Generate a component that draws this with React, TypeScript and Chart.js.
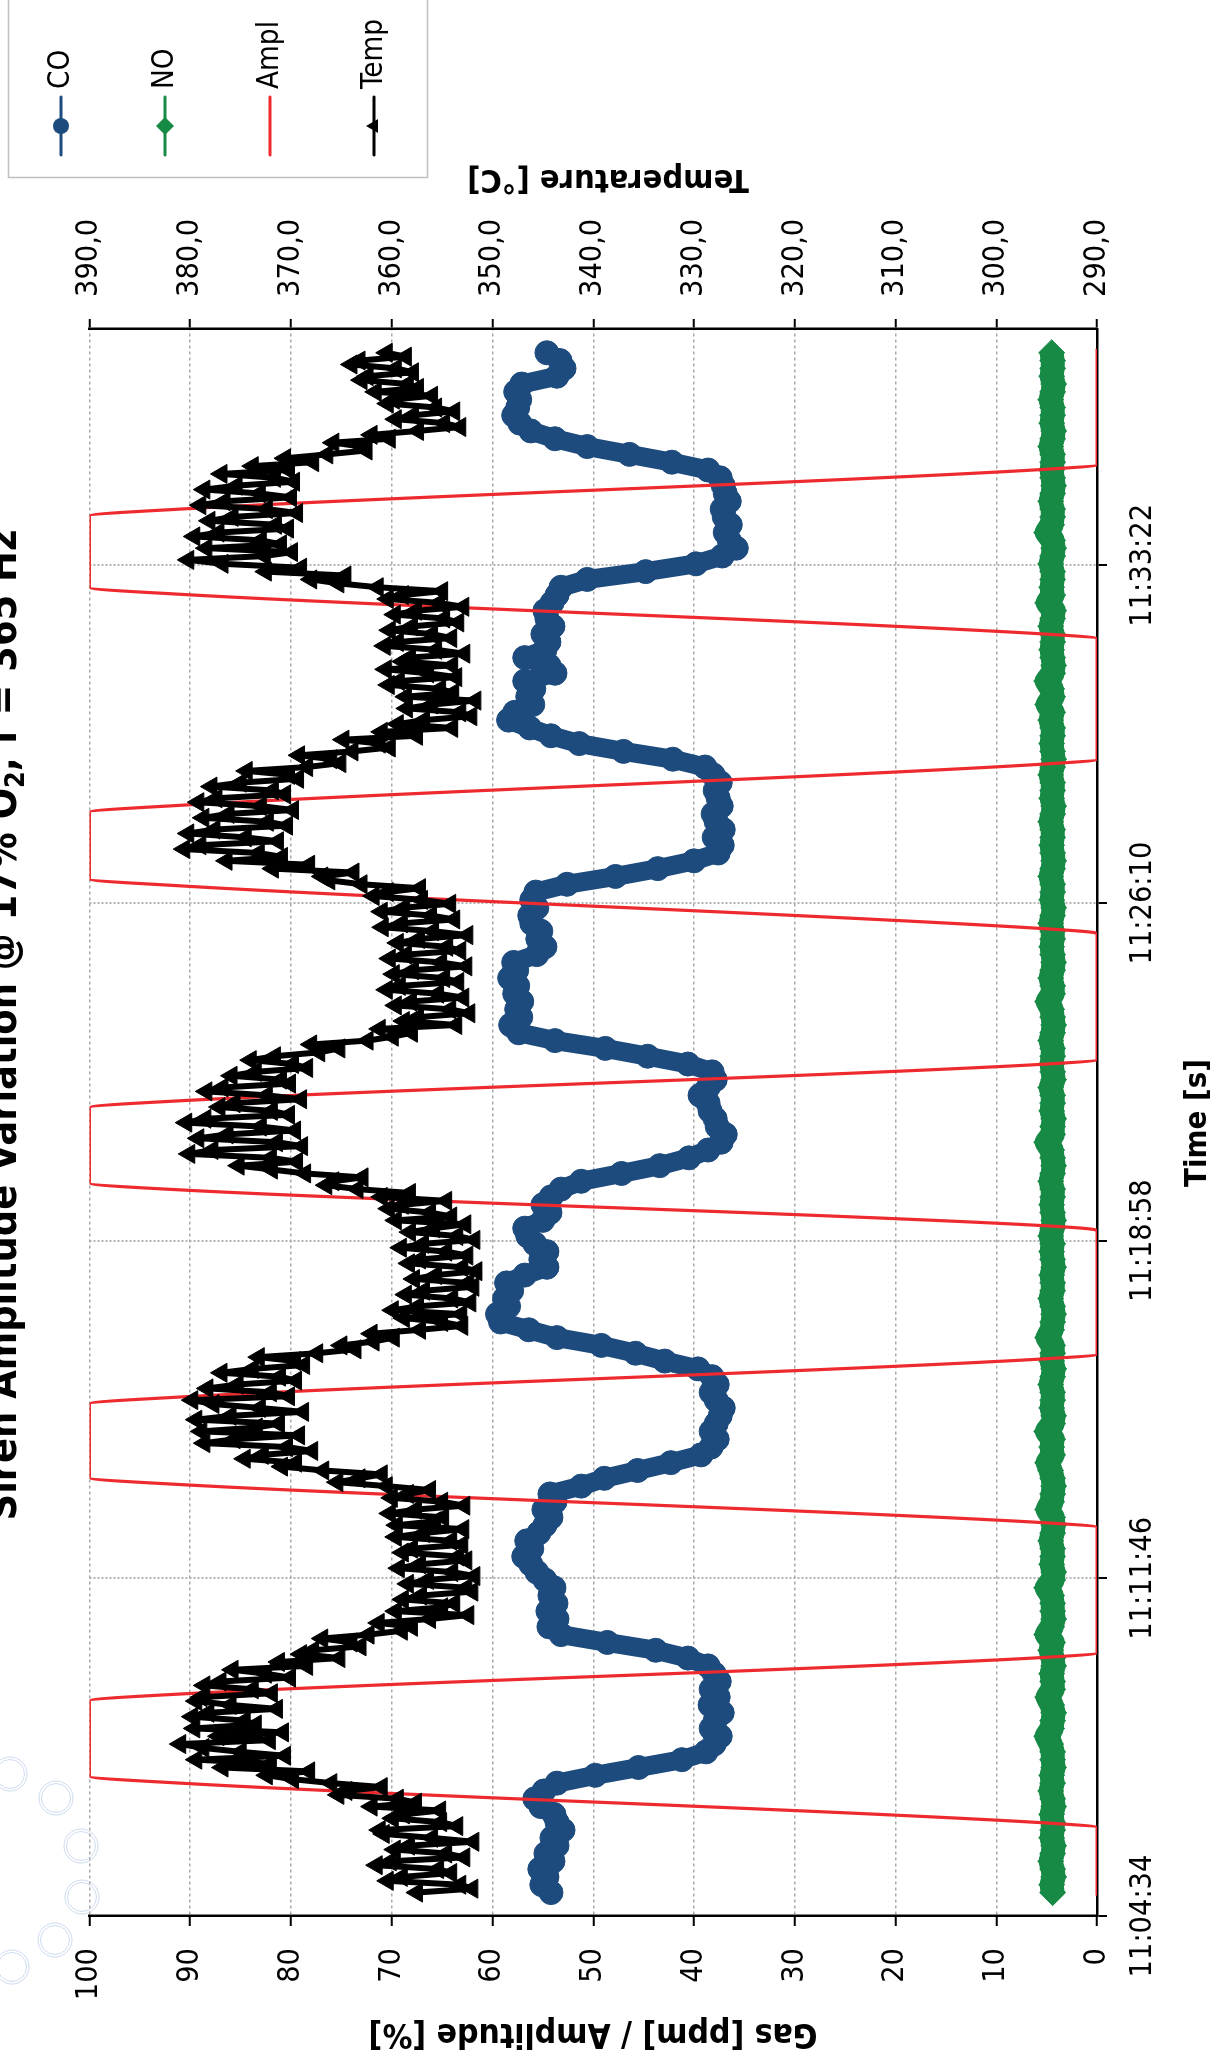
import React, { useEffect, useRef } from 'react';
import { Chart, registerables } from 'chart.js';

Chart.register(...registerables);

// ---------- texts ----------
const TITLE_MAIN = 'Siren Amplitude Variation @ 17% O';
const TITLE_SUB = '2';
const TITLE_TAIL = ', f = 365 Hz';
const X_TITLE = 'Time [s]';
const Y_TITLE = 'Gas [ppm] / Amplitude [%]';
const Y2_TITLE = 'Temperature [°C]';
const SERIES_NAMES = ['CO', 'NO', 'Ampl', 'Temp'];

// ---------- axes ----------
const TIME_TICKS = [0, 432, 864, 1296, 1728]; // seconds after 11:04:34
const TIME_LABELS = ['11:04:34', '11:11:46', '11:18:58', '11:26:10', '11:33:22'];
const TIME_MAX = 2030.4;
const GAS_TICKS = [0, 10, 20, 30, 40, 50, 60, 70, 80, 90, 100];
const GAS_LABELS = ['0', '10', '20', '30', '40', '50', '60', '70', '80', '90', '100'];
const TEMP_TICKS = [290, 300, 310, 320, 330, 340, 350, 360, 370, 380, 390];
const TEMP_LABELS = ['290,0', '300,0', '310,0', '320,0', '330,0', '340,0', '350,0', '360,0', '370,0', '380,0', '390,0'];

// ---------- data ----------
// CO and NO: one sample every 10 s, first at 30 s after 11:04:34
const GAS_START = 30;
const GAS_STEP = 10;

const CO_PPM = [
  54.2, 55.1, 54.6, 55.3, 54.0, 54.7, 53.6, 54.1, 53.0, 53.6,
  53.9, 55.2, 55.8, 54.9, 53.6, 49.8, 45.5, 41.2, 38.8, 38.0,
  37.4, 38.3, 37.9, 37.2, 38.4, 37.6, 38.3, 37.5, 38.0, 38.6,
  40.6, 43.8, 48.6, 53.2, 54.4, 53.6, 54.5, 53.7, 54.3, 53.9,
  54.8, 55.6,
  56.2, 56.9, 56.1, 56.6, 55.4, 54.8, 54.2, 54.9, 53.8, 54.3,
  51.2, 48.9, 45.6, 42.3, 39.3, 38.3, 37.7, 38.3, 37.8, 37.4,
  37.1, 37.8, 38.3, 37.7, 38.2, 39.6, 42.9, 45.8, 49.2, 53.6,
  56.4, 59.2, 59.5, 58.4, 58.8, 58.1, 58.6, 56.8, 54.6, 55.2,
  54.6, 55.8, 56.5,
  56.8, 55.0, 54.3, 55.0, 54.2, 53.2, 51.2, 47.2, 43.4, 40.5,
  38.6, 37.3, 36.9, 37.7, 37.9, 38.4, 38.6, 39.4, 38.6, 37.9,
  38.2, 40.6, 44.6, 48.8, 53.8, 57.4, 58.2, 57.2, 57.6, 57.1,
  57.8, 57.5, 58.3, 57.6, 57.9, 55.6, 54.8, 55.5, 55.2, 56.1,
  56.3,
  55.6, 56.1, 55.7, 52.6, 47.8, 43.6, 40.0, 37.6, 37.2, 38.0,
  37.1, 37.8, 38.1, 37.3, 37.6, 37.9, 37.4, 38.1, 38.9, 42.1,
  47.0, 51.4, 54.2, 56.3, 58.4, 57.8, 56.0, 56.5, 55.9, 56.8,
  53.8, 54.4, 56.8, 54.8, 54.4, 55.0, 54.0, 54.6, 54.8, 54.1,
  53.6, 53.2, 50.6, 44.8, 39.8, 37.2,
  35.8, 36.5, 36.9, 36.4, 37.0, 37.2, 36.5, 36.9, 37.1, 37.4,
  38.6, 42.2, 46.4, 50.6, 53.8, 56.2, 57.3, 57.9, 57.5, 57.3,
  57.7, 57.1, 53.6, 52.9, 53.3, 54.6,
];

const NO_PPM = [
  4.4, 4.5, 4.3, 4.4, 4.6, 4.4, 4.3, 4.5, 4.4, 4.4,
  4.5, 4.3, 4.4, 4.6, 4.4, 4.5, 4.3, 4.4, 4.4, 4.6,
  5.0, 4.5, 4.4, 4.3, 4.5, 4.9, 4.4, 4.4, 4.5, 4.3,
  4.4, 4.6, 4.4, 5.0, 4.5, 4.3, 4.4, 4.4, 4.5, 5.0,
  4.4, 4.3, 4.5, 4.4, 4.4, 4.6, 4.4, 4.3, 4.4, 4.9,
  4.5, 4.4, 4.3, 4.4, 4.6, 4.9, 4.4, 4.5, 4.4, 5.0,
  4.4, 4.3, 4.5, 4.4, 4.4, 4.6, 4.4, 4.3, 4.5, 4.4,
  4.4, 4.9, 4.5, 4.4, 4.3, 4.4, 4.6, 4.4, 4.4, 4.5,
  4.3, 4.4, 4.5, 4.4, 4.6, 4.4, 4.3, 4.4, 4.5, 4.4,
  4.4, 4.6, 4.4, 4.3, 4.4, 4.5, 5.0, 4.4, 4.4, 4.3,
  4.5, 4.4, 4.4, 4.6, 4.3, 4.4, 4.5, 4.4, 4.4, 4.6,
  4.4, 4.3, 4.4, 4.5, 4.9, 4.4, 4.4, 4.6, 4.4, 4.3,
  4.4, 4.5, 4.4, 4.4, 4.6, 4.4, 4.3, 4.5, 4.4, 4.4,
  4.6, 4.4, 4.3, 4.4, 4.5, 4.4, 4.4, 4.6, 4.4, 4.3,
  4.5, 4.4, 4.4, 4.6, 4.4, 4.3, 4.4, 4.5, 4.4, 4.4,
  4.6, 4.4, 4.9, 4.4, 4.5, 5.0, 4.4, 4.3, 4.4, 4.5,
  4.4, 4.4, 4.6, 4.4, 4.3, 4.9, 4.4, 4.5, 4.4, 4.4,
  4.6, 4.4, 4.3, 4.4, 5.0, 4.5, 4.4, 4.4, 4.6, 4.4,
  4.3, 4.4, 4.5, 4.4, 4.4, 4.6, 4.4, 4.3, 4.5, 4.4,
  4.4, 4.6, 4.4, 4.3, 4.5, 4.4, 4.4, 4.5,
];

// Temperature: one sample every 5 s, first at 30 s after 11:04:34
const TEMP_START = 30;
const TEMP_STEP = 5;
const TEMP_C = [
  357.5, 352.0, 353.2, 360.4, 359.0, 354.1, 355.4, 361.5, 360.1, 352.8,
  354.6, 359.7, 358.3, 351.9, 356.0, 360.8, 361.2, 353.5, 355.1, 359.9,
  358.8, 355.2, 362.0, 357.6, 359.4, 365.3, 364.5, 361.0, 366.0, 369.8,
  372.4, 368.2, 376.8, 372.0, 379.4, 370.6, 375.0, 378.7, 381.0, 372.1,
  377.2, 370.8, 379.6, 373.5, 374.6, 379.8, 378.2, 371.4, 376.0, 379.4,
  378.9, 371.9, 373.8, 378.6, 377.0, 370.1, 372.5, 375.8, 368.4, 371.2,
  365.2, 369.0, 367.8, 363.1, 364.0, 366.9, 362.3, 359.0, 358.0, 361.3,
  356.2, 352.4, 359.6, 355.0, 353.8, 358.9, 357.1, 352.0, 352.6, 358.4,
  356.4, 351.8, 354.0, 359.3,
  357.2, 352.6, 353.4, 358.9, 358.0, 353.0, 354.1, 359.6, 356.8, 352.9,
  359.5, 355.7, 354.9, 360.2, 357.6, 352.8, 355.0, 360.0, 358.4, 356.2,
  360.5, 365.4, 363.2, 361.0, 366.8, 370.9, 369.5, 374.6, 372.8, 367.9,
  370.4, 378.6, 375.6, 369.2, 378.9, 373.4, 371.2, 379.4, 376.0, 368.8,
  373.1, 377.7, 379.8, 370.2, 372.0, 378.3, 375.3, 369.5, 371.1, 376.9,
  373.8, 368.7, 369.6, 373.2, 367.4, 363.6, 365.0, 361.8, 359.8, 362.0,
  357.2, 353.0, 355.0, 358.8, 353.1, 359.9, 357.4, 352.2, 354.0, 358.6,
  356.8, 351.9, 352.4, 357.8, 355.6, 351.6, 353.0, 358.3, 357.2, 352.5,
  354.6, 359.1, 356.9, 351.8, 353.5, 358.2,
  355.8, 352.7, 359.6, 354.1, 356.2, 360.3, 358.9, 354.6, 361.0, 358.2,
  363.4, 366.5, 365.8, 362.9, 368.6, 371.9, 375.2, 369.4, 372.0, 380.1,
  377.8, 368.9, 371.4, 379.2, 376.3, 369.6, 373.0, 380.4, 378.5, 370.2,
  371.9, 377.1, 375.6, 369.0, 372.4, 378.4, 376.8, 370.1, 371.0, 375.9,
  373.5, 368.4, 369.8, 374.0, 371.6, 367.2, 365.2, 368.0, 362.4, 359.9,
  358.0, 361.2, 353.6, 358.8, 357.4, 352.3, 354.2, 359.6, 358.1, 352.9,
  355.4, 360.5, 359.2, 353.4, 354.8, 359.8, 357.9, 352.6, 355.1, 360.2,
  358.6, 353.2, 354.5, 359.4, 357.3, 352.5, 355.9, 360.9, 359.0, 353.8,
  356.1, 361.0,
  358.8, 354.2, 357.0, 361.8, 360.4, 357.2, 363.0, 366.2, 366.9, 363.8,
  371.8, 368.2, 376.4, 370.9, 373.2, 380.6, 379.0, 371.3, 374.5, 380.2,
  377.6, 370.4, 372.3, 378.7, 376.2, 369.8, 373.0, 379.2, 377.4, 370.6,
  371.8, 377.9, 375.0, 369.3, 370.2, 374.4, 368.4, 365.1, 366.0, 369.2,
  363.9, 360.2, 361.2, 364.8, 357.5, 361.0, 354.0, 359.4, 356.8, 352.1,
  353.2, 358.5, 356.0, 351.7, 358.6, 353.9, 355.2, 360.3, 359.3, 353.6,
  356.4, 360.6, 354.0, 358.9, 358.2, 352.8, 355.6, 360.7, 359.4, 354.1,
  356.0, 360.2, 358.0, 353.4, 354.8, 359.7, 357.6, 352.9, 355.3, 360.4,
  358.9, 355.0, 361.4, 365.3, 368.0, 364.6, 372.5, 369.0, 376.8, 380.2,
  372.6, 369.9,
  378.4, 371.0, 373.0, 379.6, 377.2, 370.3, 371.5, 378.1, 375.8, 369.4,
  372.4, 379.0, 376.6, 370.0, 373.1, 378.6, 375.4, 369.7, 371.6, 376.9,
  370.2, 373.8, 367.8, 370.6, 366.4, 362.5, 363.0, 365.8, 360.2, 362.0,
  357.4, 353.2, 354.8, 359.6, 357.9, 353.8, 355.6, 360.4, 359.8, 356.0,
  361.6, 357.4, 358.4, 363.0, 362.4, 357.9, 359.6, 364.0, 363.2, 358.6,
  360.5,
];

// Amplitude: breakpoints of the trapezoid pulses (time in s, value in %)
const AMPL_T = [
  26, 113, 119, 170, 179, 275, 284, 331, 337,
  497, 503, 552, 561, 655, 664, 713, 719,
  877, 883, 929, 938, 1034, 1043, 1090, 1096,
  1257, 1263, 1318, 1327, 1412, 1421, 1474, 1480,
  1634, 1640, 1691, 1700, 1791, 1800, 1851, 1857, 2005,
];
const AMPL_PCT = [
  0, 0, 5, 91, 100, 100, 91, 5, 0,
  0, 5, 91, 100, 100, 91, 5, 0,
  0, 5, 91, 100, 100, 91, 5, 0,
  0, 5, 91, 100, 100, 91, 5, 0,
  0, 5, 91, 100, 100, 91, 5, 0, 0,
];

// ---------- styles ----------
const CO_COLOR = '#1d4b7e';
const NO_COLOR = '#178a45';
const AMPL_COLOR = '#ee2a2f';
const TEMP_COLOR = '#000000';
const FAMILY = '"DejaVu Sans Condensed", "DejaVu Sans", sans-serif';
const W = 2060;
const H = 1217;
const DECOR_RINGS = [[286, 10], [262, 56], [214, 81], [163, 82], [120, 55], [93, 12]];
const LEGEND_MARKER_R: Record<string, number> = { circle: 8, rectRot: 9, triangle: 8 };

function fitSize(ctx: CanvasRenderingContext2D, text: string, weight: string, target: number) {
  ctx.font = `${weight} 40px ${FAMILY}`;
  const w = ctx.measureText(text).width;
  return (40 * target) / w;
}

function drawMarker(ctx: CanvasRenderingContext2D, style: string, x: number, y: number, r: number) {
  ctx.beginPath();
  if (style === 'circle') {
    ctx.arc(x, y, r, 0, Math.PI * 2);
  } else if (style === 'rectRot') {
    ctx.moveTo(x - r, y);
    ctx.lineTo(x, y - r);
    ctx.lineTo(x + r, y);
    ctx.lineTo(x, y + r);
    ctx.closePath();
  } else if (style === 'triangle') {
    let a = 0;
    ctx.moveTo(x + Math.sin(a) * r, y - Math.cos(a) * r);
    a += (2 * Math.PI) / 3;
    ctx.lineTo(x + Math.sin(a) * r, y - Math.cos(a) * r);
    a += (2 * Math.PI) / 3;
    ctx.lineTo(x + Math.sin(a) * r, y - Math.cos(a) * r);
    ctx.closePath();
  }
  ctx.fill();
}

const decorPlugin = {
  id: 'decor',
  beforeDraw(chart: any) {
    const ctx: CanvasRenderingContext2D = chart.ctx;
    ctx.save();
    ctx.fillStyle = '#ffffff';
    ctx.fillRect(0, 0, chart.width, chart.height);
    ctx.strokeStyle = '#cddbf0';
    ctx.lineWidth = 1;
    for (const [cx, cy] of DECOR_RINGS) {
      for (const r of [17, 14.5]) {
        ctx.beginPath();
        ctx.arc(cx, cy, r, 0, Math.PI * 2);
        ctx.stroke();
      }
    }
    ctx.restore();
  },
  afterDraw(chart: any) {
    const ctx: CanvasRenderingContext2D = chart.ctx;
    ctx.save();
    ctx.fillStyle = '#000';

    // chart title (partly cut at the top edge)
    const ts = fitSize(ctx, TITLE_MAIN + TITLE_SUB + TITLE_TAIL, 'bold', 1000);
    ctx.font = `bold ${ts}px ${FAMILY}`;
    const w1 = ctx.measureText(TITLE_MAIN).width;
    const w3 = ctx.measureText(TITLE_TAIL).width;
    ctx.font = `bold ${ts * 0.65}px ${FAMILY}`;
    const w2 = ctx.measureText(TITLE_SUB).width;
    let tx = 1035 - (w1 + w2 + w3) / 2;
    const ty = 16;
    ctx.textAlign = 'left';
    ctx.textBaseline = 'alphabetic';
    ctx.font = `bold ${ts}px ${FAMILY}`;
    ctx.fillText(TITLE_MAIN, tx, ty);
    tx += w1;
    ctx.font = `bold ${ts * 0.65}px ${FAMILY}`;
    ctx.fillText(TITLE_SUB, tx, ty + ts * 0.2);
    tx += w2;
    ctx.font = `bold ${ts}px ${FAMILY}`;
    ctx.fillText(TITLE_TAIL, tx, ty);

    // axis titles
    ctx.textAlign = 'center';
    ctx.textBaseline = 'middle';
    const ys = fitSize(ctx, Y_TITLE, 'bold', 449);
    ctx.font = `bold ${ys}px ${FAMILY}`;
    ctx.save();
    ctx.translate(27.5, 593);
    ctx.rotate(-Math.PI / 2);
    ctx.fillText(Y_TITLE, 0, 0);
    ctx.restore();

    const y2s = fitSize(ctx, Y2_TITLE, 'bold', 282);
    ctx.font = `bold ${y2s}px ${FAMILY}`;
    ctx.save();
    ctx.translate(1882, 608);
    ctx.rotate(-Math.PI / 2);
    ctx.fillText(Y2_TITLE, 0, 0);
    ctx.restore();

    const xs = fitSize(ctx, X_TITLE, 'bold', 128);
    ctx.font = `bold ${xs}px ${FAMILY}`;
    ctx.fillText(X_TITLE, 937, 1198);

    // legend
    ctx.strokeStyle = '#c0c0c0';
    ctx.lineWidth = 1.5;
    ctx.strokeRect(1882.5, 8.5, 220, 419);
    const ls = fitSize(ctx, 'Temp', 'normal', 70);
    const rows = [61, 165, 270, 374];
    chart.data.datasets.forEach((ds: any) => {
      const idx = SERIES_NAMES.indexOf(ds.label);
      const y = rows[idx];
      ctx.strokeStyle = ds.borderColor;
      ctx.lineWidth = 3;
      ctx.lineCap = 'round';
      ctx.beginPath();
      ctx.moveTo(1905, y);
      ctx.lineTo(1963, y);
      ctx.stroke();
      if (ds.pointRadius > 0) {
        ctx.fillStyle = ds.borderColor;
        drawMarker(ctx, ds.pointStyle, 1934, y, LEGEND_MARKER_R[ds.pointStyle]);
      }
      ctx.fillStyle = '#000';
      ctx.font = `normal ${ls}px ${FAMILY}`;
      ctx.textAlign = 'left';
      ctx.textBaseline = 'middle';
      ctx.fillText(ds.label, 1971, y);
    });
    ctx.restore();
  },
};

function ChartView() {
  const ref = useRef<HTMLCanvasElement | null>(null);
  useEffect(() => {
    if (!ref.current) return;
    const mctx = document.createElement('canvas').getContext('2d') as CanvasRenderingContext2D;
    const tickSize = Math.round(fitSize(mctx, '11:04:34', 'normal', 123) * 10) / 10;
    const tickFont = { family: FAMILY, size: tickSize };

    const gasPts = (vals: number[]) => vals.map((v, i) => ({ x: GAS_START + GAS_STEP * i, y: v }));
    const tempPts = TEMP_C.map((v, i) => ({ x: TEMP_START + TEMP_STEP * i, y: v }));

    const gridCommon = {
      color: '#a9a9a9',
      lineWidth: 1.5,
      tickColor: '#000',
      tickWidth: 2,
      tickLength: 10,
    };

    const chart = new Chart(ref.current, {
      type: 'line',
      data: {
        datasets: [
          {
            label: 'CO', data: gasPts(CO_PPM), yAxisID: 'y', order: 4,
            borderColor: CO_COLOR, backgroundColor: CO_COLOR, borderWidth: 19,
            borderJoinStyle: 'round', borderCapStyle: 'round',
            pointStyle: 'circle', pointRadius: 12, pointBorderWidth: 1,
            pointBackgroundColor: CO_COLOR, pointBorderColor: CO_COLOR,
          },
          {
            label: 'NO', data: gasPts(NO_PPM), yAxisID: 'y', order: 3,
            borderColor: NO_COLOR, backgroundColor: NO_COLOR, borderWidth: 24,
            borderJoinStyle: 'round', borderCapStyle: 'butt',
            pointStyle: 'rectRot', pointRadius: 13, pointBorderWidth: 1,
            pointBackgroundColor: NO_COLOR, pointBorderColor: NO_COLOR,
          },
          {
            label: 'Ampl', data: AMPL_T.map((t, i) => ({ x: t, y: AMPL_PCT[i] })), yAxisID: 'y', order: 2,
            borderColor: AMPL_COLOR, backgroundColor: AMPL_COLOR, borderWidth: 3.2,
            pointRadius: 0, cubicInterpolationMode: 'monotone',
          },
          {
            label: 'Temp', data: tempPts, yAxisID: 'y2', order: 1,
            borderColor: TEMP_COLOR, backgroundColor: TEMP_COLOR, borderWidth: 6,
            borderJoinStyle: 'round',
            pointStyle: 'triangle', pointRadius: 11, pointBorderWidth: 1,
            pointBackgroundColor: TEMP_COLOR, pointBorderColor: TEMP_COLOR,
          },
        ] as any,
      },
      options: {
        animation: false,
        responsive: false,
        devicePixelRatio: 1,
        events: [],
        layout: { padding: { top: 89.5, left: 0, right: 0, bottom: 0 } },
        plugins: { legend: { display: false }, tooltip: { enabled: false }, title: { display: false } },
        scales: {
          x: {
            type: 'linear', position: 'bottom', min: 0, max: TIME_MAX,
            afterBuildTicks: (s: any) => { s.ticks = TIME_TICKS.map((v) => ({ value: v })); },
            afterFit: (s: any) => { s.height = 120; },
            ticks: {
              callback: (_v: any, i: number) => TIME_LABELS[i],
              font: tickFont, color: '#000', maxRotation: 0, minRotation: 0, padding: 18, autoSkip: false,
            },
            grid: { ...gridCommon, color: '#b4b4b4', lineWidth: 2 },
            border: { color: '#000', width: 2.5, dash: [2, 2] },
          },
          y: {
            type: 'linear', position: 'left', min: 0, max: 100,
            afterBuildTicks: (s: any) => { s.ticks = GAS_TICKS.map((v) => ({ value: v })); },
            afterFit: (s: any) => { s.width = 144; },
            ticks: { callback: (_v: any, i: number) => GAS_LABELS[i], font: tickFont, color: '#000', padding: 22 },
            grid: { ...gridCommon },
            border: { color: '#000', width: 2.5, dash: [3, 3] },
          },
          y2: {
            type: 'linear', position: 'right', min: 290, max: 390,
            afterBuildTicks: (s: any) => { s.ticks = TEMP_TICKS.map((v) => ({ value: v })); },
            afterFit: (s: any) => { s.width = 329; },
            ticks: { callback: (_v: any, i: number) => TEMP_LABELS[i], font: tickFont, color: '#000', padding: 22 },
            grid: { ...gridCommon, drawOnChartArea: false },
            border: { color: '#000', width: 2.5 },
          },
        },
      } as any,
      plugins: [decorPlugin],
    });
    return () => chart.destroy();
  }, []);
  return <canvas ref={ref} width={W} height={H} style={{ display: 'block', width: W, height: H }} />;
}

export default function App() {
  return (
    <div style={{ position: 'fixed', left: 0, top: 0, width: 1217, height: 2060, overflow: 'hidden', background: '#fff' }}>
      <div
        style={{
          position: 'absolute', left: 0, top: 0, width: W, height: H,
          transformOrigin: '0 0', transform: `translateY(${W}px) rotate(-90deg)`,
        }}
      >
        <ChartView />
      </div>
    </div>
  );
}
